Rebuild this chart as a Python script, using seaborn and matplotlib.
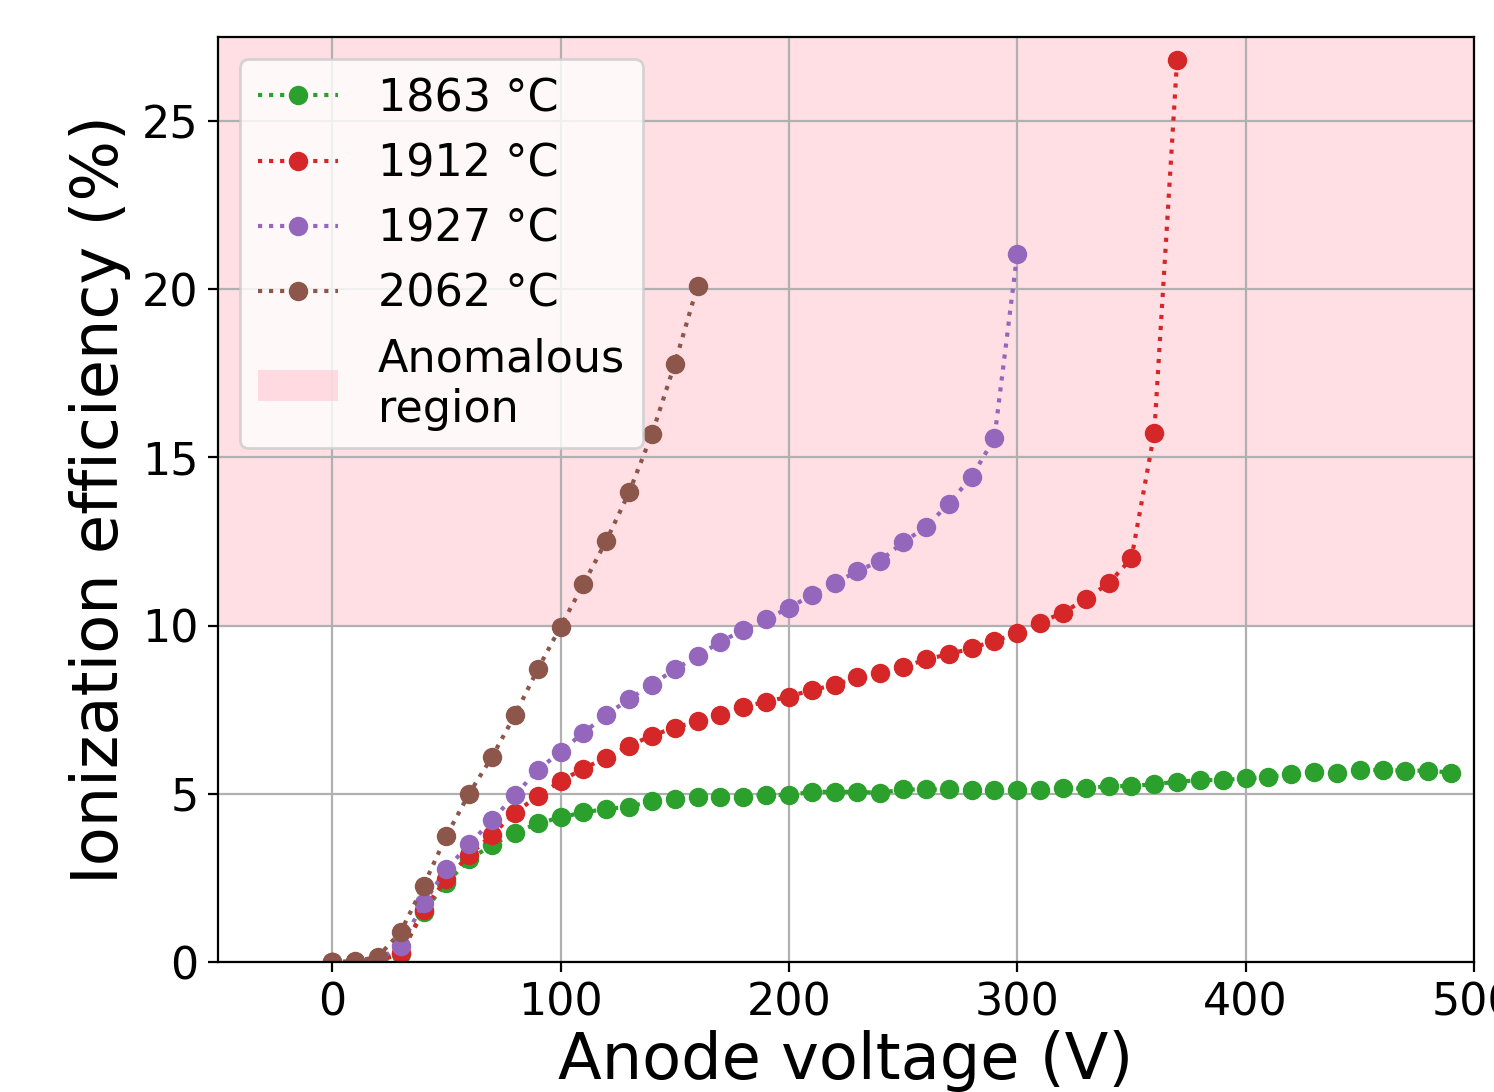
import matplotlib
matplotlib.use("Agg")
import matplotlib.pyplot as plt
import seaborn as sns

# --- Data ---
voltage = [0, 10, 20, 30, 40, 50, 60, 70, 80, 90,
           100, 110, 120, 130, 140, 150, 160, 170, 180, 190,
           200, 210, 220, 230, 240, 250, 260, 270, 280, 290,
           300, 310, 320, 330, 340, 350, 360, 370, 380, 390,
           400, 410, 420, 430, 440, 450, 460, 470, 480, 490]

eff_1863 = [0.0, 0.0, 0.05, 0.25, 1.5, 2.35, 3.05, 3.48, 3.84, 4.12,
            4.30, 4.45, 4.55, 4.62, 4.78, 4.84, 4.90, 4.91, 4.91, 4.98,
            4.96, 5.06, 5.06, 5.06, 5.03, 5.13, 5.13, 5.13, 5.11, 5.11,
            5.11, 5.11, 5.16, 5.16, 5.23, 5.23, 5.29, 5.36, 5.41, 5.41,
            5.46, 5.51, 5.58, 5.66, 5.63, 5.71, 5.71, 5.69, 5.69, 5.63]

eff_1912 = [0.0, 0.0, 0.02, 0.26, 1.55, 2.47, 3.18, 3.78, 4.44, 4.93,
            5.38, 5.75, 6.08, 6.43, 6.73, 6.97, 7.16, 7.33, 7.59, 7.74,
            7.89, 8.09, 8.23, 8.48, 8.58, 8.76, 9.00, 9.15, 9.33, 9.55,
            9.77, 10.09, 10.39, 10.79, 11.26, 12.0, 15.73, 26.82]

eff_1927 = [0.0, 0.0, 0.05, 0.49, 1.75, 2.76, 3.50, 4.22, 4.96, 5.71,
            6.25, 6.82, 7.34, 7.82, 8.25, 8.70, 9.10, 9.52, 9.87, 10.19,
            10.53, 10.91, 11.26, 11.62, 11.93, 12.48, 12.93, 13.63, 14.42, 15.57,
            21.06]

eff_2062 = [0.0, 0.03, 0.15, 0.90, 2.27, 3.75, 5.01, 6.10, 7.34, 8.70,
            9.97, 11.23, 12.52, 13.96, 15.69, 17.78, 20.10]

series = [
    ("1863 °C", eff_1863, "tab:green"),
    ("1912 °C", eff_1912, "tab:red"),
    ("1927 °C", eff_1927, "tab:purple"),
    ("2062 °C", eff_2062, "tab:brown"),
]

anomalous_threshold = 10

# --- Figure ---
fig = plt.figure(figsize=(7.47, 5.46), dpi=200)
ax = fig.add_axes([0.1459, 0.1190, 0.8407, 0.8471])

for label, eff, color in series:
    sns.lineplot(x=voltage[:len(eff)], y=eff, ax=ax, color=color,
                 linestyle=':', marker='o', markersize=7,
                 markeredgecolor=color, markeredgewidth=0,
                 label=label, sort=False)

ax.axhspan(anomalous_threshold, 30, color='pink', alpha=0.5,
           linewidth=0, label='Anomalous\nregion')

ax.set_xlim(-50, 500)
ax.set_ylim(0, 27.5)
ax.set_xticks([0, 100, 200, 300, 400, 500])
ax.set_yticks([0, 5, 10, 15, 20, 25])
ax.grid(True)
ax.tick_params(labelsize=16)
ax.set_xlabel('Anode voltage (V)', fontsize=23, labelpad=2)
ax.set_ylabel('Ionization efficiency (%)', fontsize=23)

handles, labels = ax.get_legend_handles_labels()
ax.legend(handles, labels, loc='upper left', fontsize=16,
          handlelength=1.8, handletextpad=0.9)

fig.savefig('out.png', dpi=200)
